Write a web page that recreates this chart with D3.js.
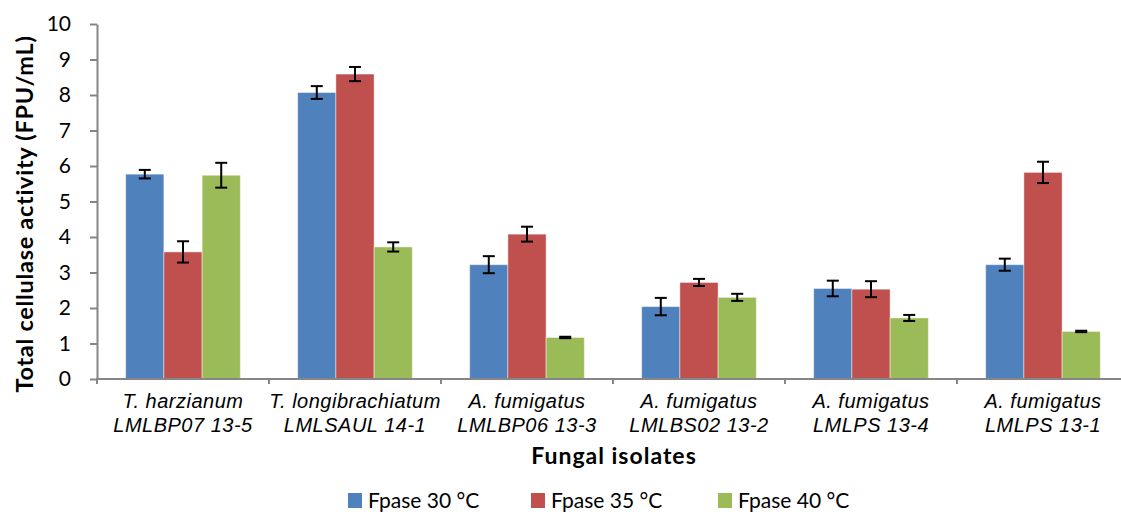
<!DOCTYPE html>
<html>
<head>
<meta charset="utf-8">
<script src="https://cdn.jsdelivr.net/npm/d3@7"></script>
<style>
  body { margin: 0; background: #fff; }
  svg { display: block; }
</style>
</head>
<body>
<div id="chart"></div>
<script>
// data
const species = ["T. harzianum", "T. longibrachiatum", "A. fumigatus", "A. fumigatus", "A. fumigatus", "A. fumigatus"];
const strains = ["LMLBP07 13-5", "LMLSAUL 14-1", "LMLBP06 13-3", "LMLBS02 13-2", "LMLPS 13-4", "LMLPS 13-1"];
const seriesNames = ["Fpase 30 °C", "Fpase 35 °C", "Fpase 40 °C"];
const fp30 = [5.77, 8.07, 3.22, 2.04, 2.55, 3.22];
const fp35 = [3.58, 8.59, 4.08, 2.72, 2.53, 5.82];
const fp40 = [5.74, 3.72, 1.17, 2.30, 1.72, 1.34];
const err30 = [0.12, 0.18, 0.24, 0.245, 0.22, 0.17];
const err35 = [0.30, 0.20, 0.21, 0.10, 0.225, 0.30];
const err40 = [0.35, 0.13, 0.02, 0.10, 0.085, 0.02];
const yTicks = [0, 1, 2, 3, 4, 5, 6, 7, 8, 9, 10];
const colors = ["#4F81BD", "#C0504D", "#9BBB59"];

const width = 1121, height = 514;
const plotLeft = 97, plotRight = 1129, plotTop = 24, plotBottom = 379;
const numFont = "Lato, 'Open Sans', sans-serif";
const catFont = "'Liberation Sans', Arial, sans-serif";

const svg = d3.select("#chart").append("svg")
    .attr("width", width)
    .attr("height", height);

const x0 = d3.scaleBand().domain(d3.range(species.length)).range([plotLeft, plotRight]).padding(0);
const x1 = d3.scaleBand().domain(d3.range(seriesNames.length))
    .range([0, x0.bandwidth()]).paddingInner(0).paddingOuter(0.75);
const y = d3.scaleLinear().domain([0, 10]).range([plotBottom, plotTop]);

const values = [fp30, fp35, fp40];
const errors = [err30, err35, err40];

// bars
const groups = svg.append("g").selectAll("g")
    .data(species.map((_, i) => i))
    .join("g")
    .attr("transform", i => `translate(${x0(i)},0)`);

groups.selectAll("rect")
    .data(i => seriesNames.map((_, s) => ({ s, v: values[s][i], e: errors[s][i] })))
    .join("rect")
    .attr("x", d => x1(d.s))
    .attr("y", d => y(d.v))
    .attr("width", x1.bandwidth())
    .attr("height", d => y(0) - y(d.v))
    .attr("fill", d => colors[d.s])
    .attr("stroke", "#fff")
    .attr("stroke-opacity", 0.45)
    .attr("stroke-width", 1);

// error bars
const cap = 6;
const eb = groups.selectAll("g.err")
    .data(i => seriesNames.map((_, s) => ({ s, v: values[s][i], e: errors[s][i] })))
    .join("g")
    .attr("class", "err")
    .attr("stroke", "#000")
    .attr("stroke-width", 2);
eb.append("line")
    .attr("x1", d => x1(d.s) + x1.bandwidth() / 2)
    .attr("x2", d => x1(d.s) + x1.bandwidth() / 2)
    .attr("y1", d => y(d.v + d.e))
    .attr("y2", d => y(d.v - d.e));
eb.append("line")
    .attr("x1", d => x1(d.s) + x1.bandwidth() / 2 - cap)
    .attr("x2", d => x1(d.s) + x1.bandwidth() / 2 + cap)
    .attr("y1", d => y(d.v + d.e))
    .attr("y2", d => y(d.v + d.e));
eb.append("line")
    .attr("x1", d => x1(d.s) + x1.bandwidth() / 2 - cap)
    .attr("x2", d => x1(d.s) + x1.bandwidth() / 2 + cap)
    .attr("y1", d => y(d.v - d.e))
    .attr("y2", d => y(d.v - d.e));

// y axis
const yAxis = svg.append("g")
    .attr("transform", `translate(${plotLeft},0)`)
    .call(d3.axisLeft(y).tickValues(yTicks).tickSize(7).tickPadding(19).tickSizeOuter(0));
yAxis.select(".domain").attr("stroke", "#868686").attr("stroke-width", 2);
yAxis.selectAll(".tick line").attr("stroke", "#868686").attr("stroke-width", 2);
yAxis.selectAll(".tick text")
    .attr("font-family", numFont)
    .attr("font-size", 21)
    .attr("fill", "#000");

// x axis
svg.append("line")
    .attr("x1", plotLeft - 1).attr("x2", plotRight)
    .attr("y1", plotBottom).attr("y2", plotBottom)
    .attr("stroke", "#868686").attr("stroke-width", 2);
svg.append("g").selectAll("line")
    .data(d3.range(species.length + 1))
    .join("line")
    .attr("x1", i => i < species.length ? x0(i) : plotRight)
    .attr("x2", i => i < species.length ? x0(i) : plotRight)
    .attr("y1", plotBottom)
    .attr("y2", plotBottom + 5)
    .attr("stroke", "#868686").attr("stroke-width", 2);

// category labels
const labels = svg.append("g").selectAll("text")
    .data(species.map((_, i) => i))
    .join("text")
    .attr("x", i => x0(i) + x0.bandwidth() / 2)
    .attr("y", 408)
    .attr("text-anchor", "middle")
    .attr("font-family", catFont)
    .attr("font-style", "italic")
    .attr("font-size", 20)
    .attr("letter-spacing", 0.5)
    .attr("fill", "#000");
labels.append("tspan")
    .attr("x", i => x0(i) + x0.bandwidth() / 2)
    .text(i => species[i]);
labels.append("tspan")
    .attr("x", i => x0(i) + x0.bandwidth() / 2)
    .attr("dy", 23.5)
    .text(i => strains[i]);

// axis titles
svg.append("text")
    .attr("x", 614)
    .attr("y", 464)
    .attr("text-anchor", "middle")
    .attr("font-family", numFont)
    .attr("font-weight", "bold")
    .attr("font-size", 23)
    .attr("letter-spacing", 1)
    .text("Fungal isolates");

svg.append("text")
    .attr("transform", "translate(33,214) rotate(-90)")
    .attr("text-anchor", "middle")
    .attr("font-family", numFont)
    .attr("font-weight", "bold")
    .attr("font-size", 23.5)
    .attr("letter-spacing", 0.7)
    .text("Total cellulase activity (FPU/mL)");

// legend
const legendX = [348, 531, 718];
const legend = svg.append("g").selectAll("g")
    .data(seriesNames.map((n, s) => s))
    .join("g")
    .attr("transform", s => `translate(${legendX[s]},493)`);
legend.append("rect")
    .attr("width", 14).attr("height", 15)
    .attr("fill", s => colors[s]);
legend.append("text")
    .attr("x", 20)
    .attr("y", 15)
    .attr("font-family", numFont)
    .attr("font-size", 21)
    .text(s => seriesNames[s]);
</script>
</body>
</html>
